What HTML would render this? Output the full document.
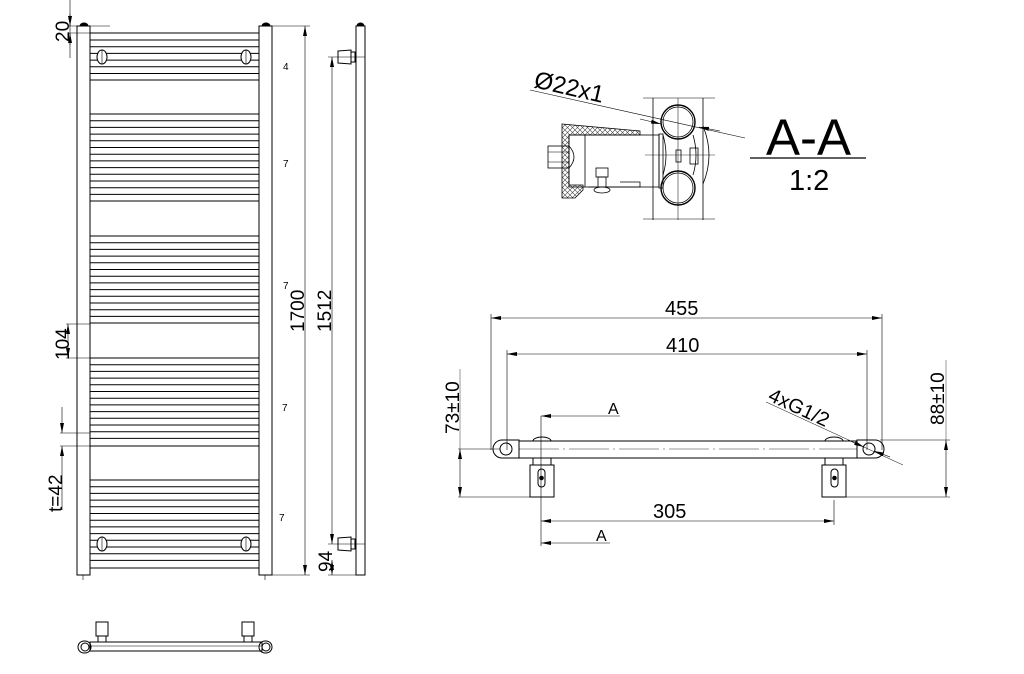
<!DOCTYPE html>
<html><head><meta charset="utf-8"><style>
html,body{margin:0;padding:0;background:#fff;}
svg{display:block;}
text{font-family:"Liberation Sans",sans-serif;fill:#000;}
</style></head><body>
<svg width="1024" height="674" viewBox="0 0 1024 674" xmlns="http://www.w3.org/2000/svg">
<defs>
<marker id="ar" viewBox="0 0 10 4" refX="10" refY="2" markerWidth="10" markerHeight="4" orient="auto-start-reverse" markerUnits="userSpaceOnUse"><path d="M0,0 L10,2 L0,4z" fill="#000"/></marker>
<pattern id="hx" width="5" height="5" patternUnits="userSpaceOnUse"><path d="M0,0L5,5M5,0L0,5" stroke="#444" stroke-width="0.6"/></pattern>
</defs>
<g fill="none" stroke="#000" stroke-width="1">
<rect x="77" y="26" width="13" height="549"/>
<rect x="259" y="26" width="13" height="549"/>
<path d="M80,26 a4,3 0 0 1 8,0" fill="#000"/>
<path d="M262,26 a4,3 0 0 1 8,0" fill="#000"/>
<line x1="83" y1="575" x2="83" y2="580" stroke-width="0.6"/>
<line x1="265" y1="575" x2="265" y2="580" stroke-width="0.6"/>
</g>
<g stroke="#000" stroke-width="1">
<path d="
M90,33H259M90,40H259M90,46.7H259M90,53.4H259M90,60.1H259M90,66.8H259M90,73.5H259M90,80H259
M90,114H259M90,120.7H259M90,127.4H259M90,134.1H259M90,140.8H259M90,147.5H259M90,154.2H259M90,160.9H259M90,167.6H259M90,174.3H259M90,181H259M90,187.7H259M90,194.4H259M90,201H259
M90,236H259M90,242.7H259M90,249.4H259M90,256.1H259M90,262.8H259M90,269.5H259M90,276.2H259M90,282.9H259M90,289.6H259M90,296.3H259M90,303H259M90,309.7H259M90,316.4H259M90,323H259
M90,358H259M90,364.7H259M90,371.4H259M90,378.1H259M90,384.8H259M90,391.5H259M90,398.2H259M90,404.9H259M90,411.6H259M90,418.3H259M90,425H259M90,431.7H259M90,438.4H259M90,446H259
M90,480H259M90,486.7H259M90,493.4H259M90,500.1H259M90,506.8H259M90,513.5H259M90,520.2H259M90,526.9H259M90,533.6H259M90,540.3H259M90,547H259M90,553.7H259M90,560.4H259M90,568H259"/>
</g>
<g fill="#fff" stroke="#000" stroke-width="1">
<ellipse cx="102" cy="57" rx="5" ry="7"/><ellipse cx="246" cy="57" rx="5" ry="7"/>
<ellipse cx="102" cy="544" rx="5" ry="7"/><ellipse cx="246" cy="544" rx="5" ry="7"/>
</g>
<g stroke="#000" stroke-width="0.6">
<line x1="102" y1="50" x2="102" y2="64"/><line x1="246" y1="50" x2="246" y2="64"/>
<line x1="102" y1="537" x2="102" y2="551"/><line x1="246" y1="537" x2="246" y2="551"/>
</g>
<g stroke="#000" stroke-width="0.6" fill="none">
<line x1="68" y1="26" x2="110" y2="26"/><line x1="68" y1="33" x2="90" y2="33"/>
<line x1="70" y1="0" x2="70" y2="58"/>
<line x1="70" y1="14" x2="70" y2="26" marker-end="url(#ar)"/>
<line x1="70" y1="45" x2="70" y2="33" marker-end="url(#ar)"/>
<line x1="66" y1="324" x2="90" y2="324"/><line x1="66" y1="358" x2="90" y2="358"/>
<line x1="68" y1="324" x2="68" y2="358" marker-start="url(#ar)" marker-end="url(#ar)"/>
<line x1="60" y1="433" x2="90" y2="433"/><line x1="60" y1="446" x2="90" y2="446"/>
<line x1="62" y1="407" x2="62" y2="433" marker-end="url(#ar)"/>
<line x1="62" y1="510" x2="62" y2="446" marker-end="url(#ar)"/>
<line x1="272" y1="26" x2="310" y2="26"/><line x1="272" y1="575" x2="310" y2="575"/>
<line x1="305" y1="26" x2="305" y2="575" marker-start="url(#ar)" marker-end="url(#ar)"/>
<line x1="328" y1="57" x2="365" y2="57"/><line x1="328" y1="544" x2="365" y2="544"/>
<line x1="332" y1="57" x2="332" y2="544" marker-start="url(#ar)" marker-end="url(#ar)"/>
<line x1="328" y1="575" x2="356" y2="575"/>
<line x1="332" y1="560" x2="332" y2="575" marker-start="url(#ar)" marker-end="url(#ar)"/>
</g>
<g font-size="10">
<text x="283" y="70">4</text><text x="283" y="167">7</text><text x="283" y="289">7</text><text x="282" y="411">7</text><text x="279" y="521">7</text>
</g>
<g font-size="19">
<text transform="translate(69,42) rotate(-90)">20</text>
<text transform="translate(69,360) rotate(-90)">104</text>
<text transform="translate(62,512) rotate(-90)">t=42</text>
<text transform="translate(304,332) rotate(-90)">1700</text>
<text transform="translate(331,332) rotate(-90)">1512</text>
<text transform="translate(332,572) rotate(-90)">94</text>
</g>
<g fill="none" stroke="#000" stroke-width="1">
<rect x="356" y="26" width="9" height="549"/>
<path d="M357,26 a3.5,3 0 0 1 7,0" fill="#000"/>
<path d="M338,51 L351,50 L351,64 L338,63 Z"/><rect x="351" y="52" width="4" height="10"/>
<path d="M338,538 L351,537 L351,551 L338,550 Z"/><rect x="351" y="539" width="4" height="10"/>
</g>
<g fill="none" stroke="#000" stroke-width="1">
<rect x="90" y="642" width="172" height="9"/>
<line x1="90" y1="646" x2="262" y2="646" stroke-width="0.5"/>
<rect x="78" y="641" width="13" height="12" rx="6"/><circle cx="85" cy="647" r="4"/>
<rect x="259" y="641" width="13" height="12" rx="6"/><circle cx="266" cy="647" r="4"/>
<rect x="96" y="622" width="12" height="14"/><rect x="98" y="636" width="8" height="6"/>
<rect x="242" y="622" width="12" height="14"/><rect x="244" y="636" width="8" height="6"/>
</g>
<g fill="none" stroke="#000" stroke-width="0.8">
<line x1="643" y1="98" x2="715" y2="98" stroke-width="0.5"/>
<line x1="643" y1="219" x2="715" y2="219" stroke-width="0.5"/>
<line x1="653" y1="98" x2="653" y2="220"/><line x1="678" y1="98" x2="678" y2="220" stroke-width="0.5"/><line x1="703" y1="98" x2="703" y2="220"/>
<path d="M562,124 L640,131 L640,135 L569,135 L569,185 L583,185 L583,190 L575,198 L562,198 Z" fill="url(#hx)"/>
<rect x="569" y="135" width="90" height="52"/>
<line x1="585" y1="135" x2="585" y2="187"/>
<rect x="659" y="134" width="4" height="54"/>
<rect x="548" y="146" width="21" height="22"/>
<path d="M569,146 q10,11 0,22"/>
<line x1="548" y1="152" x2="569" y2="152" stroke-width="0.5"/><line x1="548" y1="162" x2="569" y2="162" stroke-width="0.5"/>
<rect x="596" y="168" width="12" height="9"/><rect x="598" y="177" width="8" height="10"/>
<path d="M588,187 L640,187 L640,182 L620,182"/><ellipse cx="602" cy="190" rx="8" ry="3"/>
<circle cx="678" cy="122" r="17" stroke-width="1.4"/><circle cx="678" cy="122" r="15"/>
<circle cx="678" cy="188" r="17" stroke-width="1.4"/><circle cx="678" cy="188" r="15"/>
<path d="M663,135 q6,20 0,40 M693,135 q6,20 0,40 M703,126 q12,29 0,58"/>
<rect x="690" y="148" width="8" height="16"/><rect x="676" y="150" width="5" height="12"/>
<line x1="645" y1="155" x2="715" y2="155" stroke-width="0.4"/>
<line x1="530" y1="90" x2="745" y2="138" stroke-width="0.6"/>
<line x1="640" y1="119" x2="661" y2="124" marker-end="url(#ar)" stroke-width="0.6"/>
<line x1="720" y1="131" x2="699" y2="127" marker-end="url(#ar)" stroke-width="0.6"/>
<line x1="750" y1="158" x2="866" y2="158" stroke-width="1.2"/>
</g>
<text transform="translate(533,87) rotate(13)" font-size="24">Ø22x1</text>
<text x="766" y="155" font-size="51">A-A</text>
<text x="789" y="190" font-size="29">1:2</text>
<g fill="none" stroke="#000" stroke-width="0.6">
<line x1="491" y1="314" x2="491" y2="450"/><line x1="882" y1="314" x2="882" y2="450"/>
<line x1="491" y1="318" x2="882" y2="318" marker-start="url(#ar)" marker-end="url(#ar)"/>
<line x1="507" y1="350" x2="507" y2="450"/><line x1="867" y1="350" x2="867" y2="450"/>
<line x1="507" y1="354" x2="867" y2="354" marker-start="url(#ar)" marker-end="url(#ar)"/>
<line x1="458" y1="449" x2="500" y2="449"/><line x1="458" y1="497" x2="531" y2="497"/>
<line x1="460" y1="369" x2="460" y2="449" stroke-width="0.4"/>
<line x1="460" y1="449" x2="460" y2="497" marker-start="url(#ar)" marker-end="url(#ar)"/>
<line x1="880" y1="440" x2="950" y2="440"/><line x1="846" y1="497" x2="950" y2="497"/>
<line x1="946" y1="360" x2="946" y2="440" stroke-width="0.4"/>
<line x1="946" y1="440" x2="946" y2="497" marker-start="url(#ar)" marker-end="url(#ar)"/>
<line x1="541" y1="416" x2="541" y2="546"/>
<line x1="620" y1="416" x2="541" y2="416" marker-end="url(#ar)"/>
<line x1="610" y1="543" x2="541" y2="543" marker-end="url(#ar)"/>
<line x1="834" y1="500" x2="834" y2="525"/>
<line x1="541" y1="521" x2="834" y2="521" marker-start="url(#ar)" marker-end="url(#ar)"/>
<line x1="766" y1="402" x2="903" y2="465" stroke-width="0.5"/>
<line x1="848" y1="440" x2="864" y2="447" marker-end="url(#ar)"/>
<line x1="890" y1="457" x2="874" y2="451" marker-end="url(#ar)"/>
</g>
<g fill="none" stroke="#000" stroke-width="1">
<path d="M519,441 L857,441 M519,458 L857,458"/>
<line x1="519" y1="449" x2="857" y2="449" stroke-width="0.4" stroke-dasharray="40,4,2,4"/>
<path d="M519,440 L502,440 a9,9 0 0 0 0,18 L519,458 Z"/>
<circle cx="506" cy="449" r="6"/>
<path d="M857,440 L875,440 a9,9 0 0 1 0,18 L857,458 Z"/>
<circle cx="869" cy="449" r="6"/>
<path d="M533,441 a9,4 0 0 1 18,0"/><path d="M825,441 a9,4 0 0 1 18,0"/>
<rect x="533" y="458" width="18" height="7"/><rect x="530" y="465" width="24" height="32"/>
<rect x="825" y="458" width="18" height="7"/><rect x="822" y="465" width="24" height="32"/>
<rect x="538" y="469" width="7" height="18" rx="3.5"/><circle cx="541.5" cy="478" r="1.8" fill="#000"/>
<rect x="831" y="469" width="7" height="18" rx="3.5"/><circle cx="834.5" cy="478" r="1.8" fill="#000"/>
</g>
<g font-size="20">
<text x="665" y="315">455</text>
<text x="666" y="352">410</text>
<text x="653" y="518">305</text>
<text x="608" y="414" font-size="16">A</text>
<text x="596" y="541" font-size="16">A</text>
<text transform="translate(459,434) rotate(-90)" font-size="19">73±10</text>
<text transform="translate(944,425) rotate(-90)" font-size="19">88±10</text>
<text transform="translate(767,400) rotate(25)">4xG1/2</text>
</g>
</svg>
</body></html>
